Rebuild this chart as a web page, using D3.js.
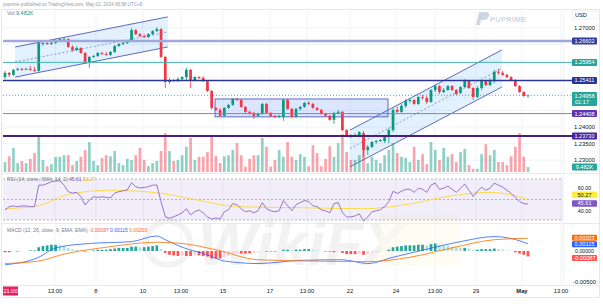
<!DOCTYPE html>
<html>
<head>
<meta charset="utf-8">
<script src="https://cdn.jsdelivr.net/npm/d3@7"></script>
<style>
  html, body { margin: 0; padding: 0; background: #fff; }
  svg { display: block; font-family: "Liberation Sans", Arial, sans-serif; }
</style>
</head>
<body>
<div id="chart"></div>
<script>
// GBPUSD 4h candles, [open, high, low, close]
const candles = [
  [1.2551,1.2570,1.2545,1.2564],[1.2564,1.2567,1.2551,1.2558],[1.2558,1.2576,1.2554,1.2573],[1.2573,1.2579,1.2570,1.2576],[1.2576,1.2579,1.2570,1.2573],
  [1.2573,1.2579,1.2573,1.2576],[1.2576,1.2585,1.2570,1.2573],[1.2573,1.2582,1.2567,1.2570],[1.2570,1.2657,1.2567,1.2654],[1.2651,1.2657,1.2645,1.2654],
  [1.2654,1.2657,1.2648,1.2651],[1.2651,1.2657,1.2648,1.2654],[1.2654,1.2666,1.2651,1.2663],[1.2663,1.2669,1.2660,1.2666],[1.2666,1.2672,1.2660,1.2667],
  [1.2666,1.2669,1.2639,1.2642],[1.2642,1.2648,1.2627,1.2633],[1.2633,1.2645,1.2630,1.2639],[1.2639,1.2642,1.2621,1.2624],[1.2624,1.2627,1.2591,1.2597],
  [1.2597,1.2615,1.2579,1.2612],[1.2612,1.2618,1.2609,1.2615],[1.2615,1.2627,1.2612,1.2624],[1.2624,1.2627,1.2618,1.2621],[1.2621,1.2627,1.2615,1.2618],
  [1.2618,1.2630,1.2615,1.2627],[1.2627,1.2648,1.2624,1.2645],[1.2645,1.2654,1.2642,1.2651],[1.2651,1.2657,1.2648,1.2654],[1.2654,1.2663,1.2651,1.2660],
  [1.2660,1.2699,1.2657,1.2693],[1.2693,1.2696,1.2678,1.2681],[1.2681,1.2684,1.2672,1.2675],[1.2675,1.2681,1.2669,1.2672],[1.2672,1.2684,1.2669,1.2681],
  [1.2681,1.2693,1.2678,1.2690],[1.2690,1.2702,1.2687,1.2696],[1.2696,1.2699,1.2609,1.2612],[1.2612,1.2615,1.2518,1.2536],[1.2536,1.2548,1.2530,1.2542],
  [1.2542,1.2545,1.2536,1.2539],[1.2539,1.2551,1.2536,1.2545],[1.2545,1.2554,1.2542,1.2551],[1.2551,1.2579,1.2542,1.2573],[1.2573,1.2576,1.2518,1.2542],
  [1.2542,1.2554,1.2539,1.2551],[1.2551,1.2554,1.2545,1.2548],[1.2548,1.2554,1.2536,1.2539],[1.2539,1.2542,1.2506,1.2509],[1.2509,1.2512,1.2452,1.2458],
  [1.2458,1.2461,1.2449,1.2452],[1.2452,1.2458,1.2431,1.2434],[1.2434,1.2461,1.2431,1.2458],[1.2458,1.2470,1.2455,1.2467],[1.2467,1.2488,1.2464,1.2485],
  [1.2485,1.2488,1.2479,1.2482],[1.2482,1.2485,1.2458,1.2461],[1.2461,1.2464,1.2443,1.2446],[1.2446,1.2449,1.2437,1.2443],[1.2443,1.2446,1.2425,1.2434],
  [1.2434,1.2443,1.2431,1.2440],[1.2440,1.2473,1.2437,1.2470],[1.2470,1.2473,1.2440,1.2443],[1.2443,1.2446,1.2431,1.2434],[1.2434,1.2437,1.2428,1.2431],
  [1.2431,1.2437,1.2428,1.2434],[1.2431,1.2485,1.2419,1.2482],[1.2482,1.2485,1.2452,1.2455],[1.2455,1.2458,1.2428,1.2431],[1.2431,1.2458,1.2428,1.2455],
  [1.2455,1.2464,1.2449,1.2461],[1.2461,1.2476,1.2458,1.2473],[1.2473,1.2479,1.2467,1.2470],[1.2470,1.2473,1.2455,1.2458],[1.2458,1.2461,1.2449,1.2452],
  [1.2452,1.2455,1.2437,1.2440],[1.2440,1.2443,1.2431,1.2434],[1.2434,1.2437,1.2419,1.2422],[1.2422,1.2446,1.2410,1.2443],[1.2443,1.2452,1.2440,1.2446],
  [1.2446,1.2449,1.2388,1.2391],[1.2391,1.2394,1.2373,1.2376],[1.2376,1.2379,1.2367,1.2373],[1.2373,1.2382,1.2370,1.2376],[1.2376,1.2388,1.2373,1.2385],
  [1.2382,1.2388,1.2310,1.2331],[1.2331,1.2346,1.2316,1.2340],[1.2340,1.2358,1.2337,1.2355],[1.2355,1.2361,1.2349,1.2358],[1.2358,1.2364,1.2355,1.2361],
  [1.2358,1.2373,1.2352,1.2370],[1.2370,1.2397,1.2352,1.2391],[1.2391,1.2458,1.2385,1.2452],[1.2452,1.2461,1.2443,1.2446],[1.2446,1.2470,1.2443,1.2464],
  [1.2464,1.2485,1.2458,1.2479],[1.2479,1.2488,1.2473,1.2482],[1.2482,1.2485,1.2467,1.2470],[1.2470,1.2494,1.2467,1.2491],[1.2491,1.2497,1.2482,1.2488],
  [1.2488,1.2494,1.2470,1.2476],[1.2476,1.2515,1.2473,1.2512],[1.2512,1.2530,1.2506,1.2524],[1.2524,1.2527,1.2500,1.2506],[1.2506,1.2518,1.2503,1.2512],
  [1.2512,1.2527,1.2509,1.2524],[1.2524,1.2527,1.2509,1.2512],[1.2512,1.2515,1.2497,1.2500],[1.2503,1.2524,1.2500,1.2521],[1.2521,1.2545,1.2518,1.2539],
  [1.2539,1.2542,1.2515,1.2518],[1.2518,1.2521,1.2482,1.2491],[1.2491,1.2524,1.2488,1.2518],[1.2518,1.2542,1.2512,1.2539],[1.2539,1.2542,1.2524,1.2527],
  [1.2527,1.2548,1.2524,1.2539],[1.2539,1.2573,1.2533,1.2567],[1.2567,1.2576,1.2558,1.2564],[1.2564,1.2570,1.2554,1.2558],[1.2558,1.2561,1.2548,1.2551],
  [1.2551,1.2554,1.2539,1.2542],[1.2542,1.2545,1.2521,1.2524],[1.2524,1.2527,1.2503,1.2506],[1.2506,1.2509,1.2491,1.2494],[1.2494,1.2497,1.2488,1.2496]
];

// volume in thousands
const volumes = [
  19,30,46,17,21,17,25,36,68,23, 11,15,29,29,32,32,13,21,29,42,
  57,21,13,27,32,30,40,17,13,25, 23,32,46,23,11,17,21,40,74,40,
  21,23,32,48,65,23,29,29,38,70, 30,17,30,32,42,55,32,10,25,32,
  32,65,48,10,23,42,29,57,29,23, 34,29,11,51,36,11,25,49,29,55,
  72,38,23,23,32,65,17,29,23,17, 32,42,55,36,29,27,19,48,23,34,
  15,57,42,23,46,29,34,19,38,44, 13,6,6,34,53,32,42,19,19,13,
  30,48,74,29,9.482
];

const rsi = [
  39.8,43,43.7,43,43.7,43.7,43,43,64,64, 65.5,67.4,68,68.3,64,57.6,56.3,57,52.7,44.6,
  49.5,52.7,52,52.7,52.2,51.5,56.3,57.6,58.5,59.3, 66.4,62.5,61.2,61.8,62.5,64,64.1,47.9,33.2,31.7,
  33.2,34.9,37.1,41,35,38.1,39.8,37,33,31, 32,31,38,40,46,45,41,38,39,37,
  39,47,41,39,38,39,49,44,39,45, 47,49,48,44,43,40,39,37,46,47,
  37,33,33,34,36,29,33,38,39,40, 43,48,58,56,58,60,60,57,61,60,
  57,64,66,60,61,63,60,57,61,65, 59,53,58,62,59,61,66,64,62,59,
  56,52,48,46,45.61
];
// RSI-based MA, [bar index, value]
const rsiMa = [[0,41],[8,44],[15,55],[25,59],[32,58],[37,56],[45,50],[55,43],[70,42],[85,41],[95,45],[105,53],[115,57],[124,50.27]];

// MACD (thousandths), [bar index, value]
const macdLine = [[0,-2.2],[8,-1.0],[12,0.5],[20,1.2],[30,1.5],[36,2.4],[38,1.8],[42,0.6],[48,-0.6],[52,-1.6],[60,-2.0],[70,-1.5],[80,-1.4],[86,-2.0],[92,-1.0],[100,0.3],[108,1.5],[116,2.3],[120,2.0],[124,1.15]];
const signalLine = [[0,-2.0],[8,-1.6],[14,-0.5],[24,0.6],[36,1.4],[42,1.2],[50,0.2],[60,-1.4],[72,-1.6],[86,-1.7],[96,-1.0],[106,0.5],[116,1.8],[124,2.03]];
const macdHist = [
  -0.2,-0.2,-0.1,-0.1,0,0,0.1,0.1,
  0.6,0.8,0.9,1.0,1.0,0.9,0.8,0.5,0.3,0.2,0.1,-0.1,0,
  0.1,0.2,0.2,0.2,0.3,0.4,0.5,0.5,0.5,0.7,0.7,0.6,0.6,0.7,0.8,0.9,
  0.3,-0.3,-0.6,-0.7,-0.8,-0.7,-0.8,-0.8,-0.7,-0.7,-0.8,-0.9,-1.2,-1.2,
  -1.2,-1.0,-0.8,-0.5,-0.4,-0.4,-0.4,-0.4,-0.3,-0.2,0,-0.1,-0.1,-0.1,0,0.2,0.2,0.1,0.2,0.2,0.3,0.3,0.2,0.1,0,-0.1,-0.1,-0.2,-0.1,
  -0.3,-0.5,-0.5,-0.5,-0.4,-0.6,-0.5,-0.3,-0.2,-0.1,0,0.2,0.6,
  0.7,0.8,0.9,0.9,0.9,1.0,1.0,0.9,1.1,1.2,1.0,0.9,0.8,0.7,0.6,0.5,0.5,0.4,0.2,0.2,
  0.3,0.3,0.3,0.4,0.3,0.2,0.1,0,-0.2,-0.4,-0.6,-0.87
];

const tickIndex = [11.85, 21.57, 32.72, 41.73, 51.68, 62.83, 71.6, 81.79, 92.7, 101.94, 111.66, 122.57, 131.82];
const tickLabels = ["13:00","8","10","13:00","15","17","13:00","22","24","13:00","29","May","13:00"];
const priceTicks = [1.27, 1.265, 1.26, 1.255, 1.25, 1.245, 1.24, 1.235, 1.23];

const levelPrices = [1.26602, 1.25954, 1.25411, 1.24408, 1.23730];
const levelColors = ['#9fa8da', '#4db6ac', '#283593', '#8e7cc3', '#4a1f7a'];
const levelWidths = [2.5, 1, 1.5, 1, 2];
const levelTagColors = ['#303f9f', '#26a69a', '#283593', '#5e35b1', '#4527a0'];

// drawings, [bar index, price]
const channelATop = [[2.4,1.2642],[38.6,1.2733]];
const channelABottom = [[2.4,1.2551],[38.6,1.2642]];
const channelBTop = [[81.8,1.2391],[117.8,1.2633]];
const channelBBottom = [[81.8,1.2280],[117.8,1.2521]];
const rangeBox = [[49.8,1.2485],[90.8,1.2431]];

const lastPrice = 1.24958;

const W = 603, H = 305;
const plotL = 3, plotR = 563, tagX = 572, tagW = 25;
const priceTop = 9, priceBot = 173, rsiTop = 174, rsiBot = 223, macdTop = 224, macdBot = 285;
const green = '#089981', red = '#f23645';

const svg = d3.select('#chart').append('svg').attr('width', W).attr('height', H);

const x = d3.scaleLinear().domain([0, candles.length - 1]).range([5, 528]);
const y = d3.scaleLinear().domain([1.23, 1.27]).range([160.2, 27.8]);
const yVol = d3.scaleLinear().domain([0, 80]).range([172, 130]);
const yRsi = d3.scaleLinear().domain([30, 70]).range([220, 179]);
const yMacd = d3.scaleLinear().domain([-5, 0]).range([282.3, 251]);

const defs = svg.append('defs');
[['clipPrice', priceTop, priceBot], ['clipRsi', rsiTop, rsiBot], ['clipMacd', macdTop, macdBot]].forEach(([id, t, b]) => {
    defs.append('clipPath').attr('id', id).append('rect')
        .attr('x', plotL).attr('y', t).attr('width', plotR - plotL).attr('height', b - t);
});

// header
svg.append('text').attr('x', 3).attr('y', 6).attr('font-size', 4.6).attr('fill', '#9598a1')
    .text('puprime published on TradingView.com, May 01, 2024 08:58 UTC+8');

// frame + pane separators
svg.append('rect').attr('x', 1.5).attr('y', priceTop + 0.5).attr('width', 598).attr('height', 288)
    .attr('fill', 'none').attr('stroke', '#e0e3eb').attr('stroke-width', 0.8);
[priceBot + 0.5, rsiBot + 0.5, macdBot + 0.5].forEach(v => {
    svg.append('line').attr('x1', 2).attr('x2', 600).attr('y1', v).attr('y2', v)
        .attr('stroke', '#e0e3eb').attr('stroke-width', 0.8);
});
svg.append('line').attr('x1', plotR + 0.5).attr('x2', plotR + 0.5).attr('y1', priceTop).attr('y2', macdBot)
    .attr('stroke', '#eef0f4').attr('stroke-width', 0.8);

// grid
const grid = svg.append('g');
tickIndex.forEach(t => {
    grid.append('line').attr('x1', x(t)).attr('x2', x(t)).attr('y1', priceTop).attr('y2', macdBot)
        .attr('stroke', '#f0f3fa').attr('stroke-width', 1);
});
priceTicks.forEach(p => {
    grid.append('line').attr('x1', plotL).attr('x2', plotR).attr('y1', y(p)).attr('y2', y(p))
        .attr('stroke', '#f0f3fa').attr('stroke-width', 1);
});

// watermark
const wm = svg.append('g').attr('opacity', 0.45);
wm.append('circle').attr('cx', 168).attr('cy', 243).attr('r', 22).attr('fill', 'none')
    .attr('stroke', '#e6e6e6').attr('stroke-width', 6);
wm.append('text').attr('x', 198).attr('y', 265).attr('font-size', 62).attr('font-weight', 'bold')
    .attr('font-style', 'italic').attr('fill', '#e4e4e4').text('WikiFX');
wm.append('rect').attr('x', 380).attr('y', 215).attr('width', 80).attr('height', 50)
    .attr('fill', '#fff6d5').attr('opacity', 0.6);

// ---------- price pane ----------
const pg = svg.append('g').attr('clip-path', 'url(#clipPrice)');

function drawChannel(top, bot) {
    const pts = [top[0], top[1], bot[1], bot[0]].map(d => [x(d[0]), y(d[1])]);
    pg.append('polygon').attr('points', pts.map(p => p.join(',')).join(' '))
        .attr('fill', 'rgba(33,150,243,0.13)');
    pg.append('line').attr('x1', x(top[0][0])).attr('y1', y(top[0][1])).attr('x2', x(top[1][0])).attr('y2', y(top[1][1]))
        .attr('stroke', '#5c6bc0').attr('stroke-width', 1);
    pg.append('line').attr('x1', x(bot[0][0])).attr('y1', y(bot[0][1])).attr('x2', x(bot[1][0])).attr('y2', y(bot[1][1]))
        .attr('stroke', '#5c6bc0').attr('stroke-width', 1);
    pg.append('line')
        .attr('x1', x(top[0][0])).attr('y1', (y(top[0][1]) + y(bot[0][1])) / 2)
        .attr('x2', x(top[1][0])).attr('y2', (y(top[1][1]) + y(bot[1][1])) / 2)
        .attr('stroke', '#7986cb').attr('stroke-width', 0.8).attr('stroke-dasharray', '2,2');
}
drawChannel(channelATop, channelABottom);
drawChannel(channelBTop, channelBBottom);

pg.append('rect')
    .attr('x', x(rangeBox[0][0])).attr('y', y(rangeBox[0][1]))
    .attr('width', x(rangeBox[1][0]) - x(rangeBox[0][0]))
    .attr('height', y(rangeBox[1][1]) - y(rangeBox[0][1]))
    .attr('fill', 'rgba(41,98,255,0.16)').attr('stroke', '#5c6bc0').attr('stroke-width', 1);

// horizontal levels
levelPrices.forEach((p, i) => {
    svg.append('line').attr('x1', plotL).attr('x2', tagX).attr('y1', y(p)).attr('y2', y(p))
        .attr('stroke', levelColors[i]).attr('stroke-width', levelWidths[i]);
});

// volume
const bw = 2.7;
pg.selectAll('.vol').data(volumes).enter().append('rect')
    .attr('x', (d, i) => x(i) - bw / 2)
    .attr('y', d => yVol(d))
    .attr('width', bw)
    .attr('height', d => yVol(0) - yVol(d))
    .attr('fill', (d, i) => candles[i][3] >= candles[i][0] ? 'rgba(8,153,129,0.45)' : 'rgba(242,54,69,0.45)');

// candles
const cg = pg.selectAll('.candle').data(candles).enter().append('g');
cg.append('line')
    .attr('x1', (d, i) => x(i)).attr('x2', (d, i) => x(i))
    .attr('y1', d => y(d[1])).attr('y2', d => y(d[2]))
    .attr('stroke', d => d[3] >= d[0] ? green : red).attr('stroke-width', 0.8);
cg.append('rect')
    .attr('x', (d, i) => x(i) - bw / 2)
    .attr('y', d => y(Math.max(d[0], d[3])))
    .attr('width', bw)
    .attr('height', d => Math.max(0.8, Math.abs(y(d[0]) - y(d[3]))))
    .attr('fill', d => d[3] >= d[0] ? green : red);

// last price dotted line
svg.append('line').attr('x1', plotL).attr('x2', tagX).attr('y1', y(lastPrice)).attr('y2', y(lastPrice))
    .attr('stroke', '#26a69a').attr('stroke-width', 0.8).attr('stroke-dasharray', '1,2');

// legend
svg.append('text').attr('x', 7).attr('y', 15).attr('font-size', 5.5).attr('fill', '#787b86').text('Vol');
svg.append('text').attr('x', 16).attr('y', 15).attr('font-size', 5.5).attr('fill', green).text('9.482K');

// PU Prime logo
const logo = svg.append('g').attr('opacity', 0.55);
logo.append('path').attr('d', 'M476,25 L479,12 L486,12 Q490,12 489,16 Q488,20 483,20 L481,20 L480,25 Z')
    .attr('fill', '#a8b5cc');
logo.append('text').attr('x', 490).attr('y', 22).attr('font-size', 7.5).attr('font-weight', 'bold')
    .attr('fill', '#a8b5cc').attr('letter-spacing', 0.3).text('PUPRIME');

// price axis: tick labels hidden where a tag sits on top of them
const tagYs = levelPrices.map(p => y(p)).concat([y(lastPrice) + 3.5]);
priceTicks.forEach(p => {
    if (tagYs.some(t => Math.abs(t - y(p)) < 7)) return;
    svg.append('text').attr('x', tagX + tagW / 2).attr('y', y(p)).attr('dy', '0.35em')
        .attr('text-anchor', 'middle').attr('font-size', 5.8).attr('fill', '#131722').text(p.toFixed(5));
});

function tag(yPos, text, bg, fg, h) {
    const hh = h || 7;
    svg.append('rect').attr('x', tagX).attr('y', yPos - hh / 2).attr('width', tagW).attr('height', hh)
        .attr('rx', 1).attr('fill', bg);
    svg.append('text').attr('x', tagX + tagW / 2).attr('y', yPos).attr('dy', '0.35em')
        .attr('text-anchor', 'middle').attr('font-size', 5.6).attr('fill', fg || '#fff').text(text);
}

// USD box
svg.append('rect').attr('x', tagX).attr('y', 11).attr('width', tagW).attr('height', 8)
    .attr('fill', '#fff').attr('stroke', '#e0e3eb').attr('stroke-width', 0.6);
svg.append('text').attr('x', tagX + 3).attr('y', 15).attr('dy', '0.35em').attr('font-size', 5.6)
    .attr('fill', '#131722').text('USD');

levelPrices.forEach((p, i) => tag(y(p), p.toFixed(5), levelTagColors[i]));
// last price tag with countdown
svg.append('rect').attr('x', tagX).attr('y', y(lastPrice) - 3.5).attr('width', tagW).attr('height', 14)
    .attr('rx', 1).attr('fill', '#26a69a');
svg.append('text').attr('x', tagX + tagW / 2).attr('y', y(lastPrice) + 0.5).attr('dy', '0.35em')
    .attr('text-anchor', 'middle').attr('font-size', 5.6).attr('fill', '#fff').text(lastPrice.toFixed(5));
svg.append('text').attr('x', tagX + 3).attr('y', y(lastPrice) + 7).attr('dy', '0.35em')
    .attr('font-size', 5.6).attr('fill', '#fff').text('01:17');
tag(yVol(volumes[volumes.length - 1]), '9.482K', '#26a69a');

// ---------- RSI pane ----------
const rg = svg.append('g').attr('clip-path', 'url(#clipRsi)');
rg.append('rect').attr('x', plotL).attr('y', yRsi(70)).attr('width', tagX - plotL)
    .attr('height', yRsi(30) - yRsi(70)).attr('fill', 'rgba(126,87,194,0.1)');
[70, 50, 30].forEach(v => {
    rg.append('line').attr('x1', plotL).attr('x2', tagX).attr('y1', yRsi(v)).attr('y2', yRsi(v))
        .attr('stroke', '#9598a1').attr('stroke-width', 0.7).attr('stroke-dasharray', '2,2');
});
rg.append('path').datum(rsiMa)
    .attr('d', d3.line().x(d => x(d[0])).y(d => yRsi(d[1])).curve(d3.curveMonotoneX))
    .attr('fill', 'none').attr('stroke', '#fdd835').attr('stroke-width', 0.9);
rg.append('path').datum(rsi)
    .attr('d', d3.line().x((d, i) => x(i)).y(d => yRsi(d)))
    .attr('fill', 'none').attr('stroke', '#7e57c2').attr('stroke-width', 0.8);

const rl = svg.append('text').attr('x', 7).attr('y', 181).attr('font-size', 5).attr('fill', '#787b86');
rl.append('tspan').text('RSI (14, close, SMA, 14, 2)  ');
rl.append('tspan').attr('fill', '#7e57c2').text('45.61  ');
rl.append('tspan').attr('fill', '#e6c300').text('50.27');

svg.append('text').attr('x', tagX + tagW / 2).attr('y', yRsi(60) - 1.5).attr('dy', '0.35em')
    .attr('text-anchor', 'middle').attr('font-size', 5.4).attr('fill', '#131722').text('60.00');
svg.append('text').attr('x', tagX + tagW / 2).attr('y', yRsi(40) + 1).attr('dy', '0.35em')
    .attr('text-anchor', 'middle').attr('font-size', 5.4).attr('fill', '#131722').text('40.00');
tag(yRsi(rsi[rsi.length - 1]) - 0.5, '45.61', '#7e57c2', '#fff', 6.5);
tag(yRsi(rsiMa[rsiMa.length - 1][1]) - 4.5, '50.27', '#ffeb3b', '#131722', 6.5);

// ---------- MACD pane ----------
const mg = svg.append('g').attr('clip-path', 'url(#clipMacd)');
mg.selectAll('.hist').data(macdHist).enter().append('rect')
    .attr('x', (d, i) => x(i) - bw / 2)
    .attr('y', d => Math.min(yMacd(0), yMacd(d)))
    .attr('width', bw)
    .attr('height', d => Math.abs(yMacd(d) - yMacd(0)))
    .attr('fill', (d, i) => {
        const prev = i > 0 ? macdHist[i - 1] : d;
        if (d >= 0) return d >= prev ? '#26a69a' : '#b2dfdb';
        return d <= prev ? '#ff5252' : '#ffcdd2';
    });
mg.append('path').datum(macdLine)
    .attr('d', d3.line().x(d => x(d[0])).y(d => yMacd(d[1])).curve(d3.curveMonotoneX))
    .attr('fill', 'none').attr('stroke', '#2962ff').attr('stroke-width', 0.8);
mg.append('path').datum(signalLine)
    .attr('d', d3.line().x(d => x(d[0])).y(d => yMacd(d[1])).curve(d3.curveMonotoneX))
    .attr('fill', 'none').attr('stroke', '#ff6d00').attr('stroke-width', 0.8);

const ml = svg.append('text').attr('x', 7).attr('y', 232).attr('font-size', 5).attr('fill', '#787b86');
ml.append('tspan').text('MACD (12, 26, close, 9, EMA, EMA)  ');
ml.append('tspan').attr('fill', '#ff5252').text('-0.00087  ');
ml.append('tspan').attr('fill', '#2962ff').text('0.00115  ');
ml.append('tspan').attr('fill', '#ff6d00').text('0.00203');

tag(yMacd(signalLine[signalLine.length - 1][1]) - 0.5, '0.00203', '#ff6d00', '#fff', 6);
tag(yMacd(macdLine[macdLine.length - 1][1]) + 0.5, '0.00115', '#2962ff', '#fff', 6);
svg.append('text').attr('x', tagX + tagW / 2).attr('y', yMacd(0) + 0.5).attr('dy', '0.35em')
    .attr('text-anchor', 'middle').attr('font-size', 5.2).attr('fill', '#131722').text('0.00000');
tag(yMacd(macdHist[macdHist.length - 1]) + 1.5, '-0.00087', '#ff5252', '#fff', 6);
svg.append('text').attr('x', tagX + tagW / 2).attr('y', yMacd(-5)).attr('dy', '0.35em')
    .attr('text-anchor', 'middle').attr('font-size', 5.8).attr('fill', '#131722').text('-0.00500');

// ---------- time axis ----------
tickIndex.forEach((t, i) => {
    svg.append('text').attr('x', x(t)).attr('y', 291).attr('dy', '0.35em').attr('text-anchor', 'middle')
        .attr('font-size', 5.8).attr('fill', '#131722')
        .attr('font-weight', tickLabels[i] === 'May' ? 'bold' : 'normal')
        .text(tickLabels[i]);
});
// crosshair time label
svg.append('rect').attr('x', 3).attr('y', 286.5).attr('width', 15).attr('height', 9).attr('fill', '#e91e63');
svg.append('text').attr('x', 10.5).attr('y', 291).attr('dy', '0.35em').attr('text-anchor', 'middle')
    .attr('font-size', 5.6).attr('fill', '#fff').text('21:00');
</script>
</body>
</html>
